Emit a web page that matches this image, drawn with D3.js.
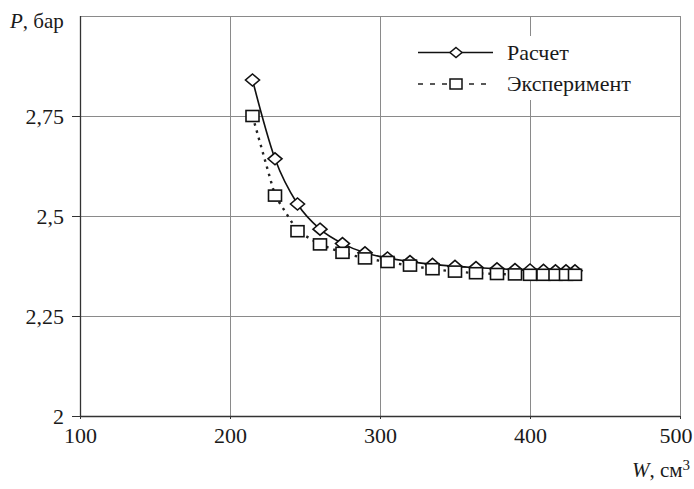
<!DOCTYPE html>
<html>
<head>
<meta charset="utf-8">
<script src="https://cdnjs.cloudflare.com/ajax/libs/d3/7.8.5/d3.min.js"></script>
<style>
  body { margin: 0; background: #fff; }
  svg text { font-family: 'Liberation Serif', 'DejaVu Serif', 'Times New Roman', Times, serif; fill: #1a1a1a; }
</style>
</head>
<body>
<script>
// data
var volume = [215, 230, 245, 260, 275, 290, 305, 320, 335, 350, 364, 378, 390, 400, 409, 417, 424, 430];
var calcP  = [2.84, 2.643, 2.53, 2.467, 2.431, 2.408, 2.395, 2.386, 2.379, 2.374, 2.371, 2.368, 2.366, 2.365, 2.364, 2.363, 2.363, 2.363];
var expP   = [2.75, 2.551, 2.462, 2.429, 2.408, 2.394, 2.385, 2.376, 2.367, 2.361, 2.357, 2.355, 2.354, 2.353, 2.353, 2.353, 2.353, 2.353];
var seriesNames = ['Расчет', 'Эксперимент'];
var xTicks = [100, 200, 300, 400, 500];
var yTicks = [2, 2.25, 2.5, 2.75];
var yTickLabels = ['2', '2,25', '2,5', '2,75'];

var width = 694, height = 489;
var mLeft = 80, mRight = 680, mTop = 16, mBottom = 416;
var serif = "'Liberation Serif', 'DejaVu Serif', serif";

var xscale = d3.scaleLinear().domain([100, 500]).range([mLeft, mRight]);
var yscale = d3.scaleLinear().domain([2, 3]).range([mBottom, mTop]);

var svg = d3.select('body').append('svg')
    .attr('width', width)
    .attr('height', height);

//grid lines
var grid = svg.append('g').attr('stroke', '#8a8a8a').attr('stroke-width', 1);
grid.selectAll('line.h')
    .data(yTicks.slice(1).concat([3]))
    .enter().append('line')
        .attr('x1', mLeft).attr('x2', mRight)
        .attr('y1', function (d) { return Math.round(yscale(d)) + 0.5; })
        .attr('y2', function (d) { return Math.round(yscale(d)) + 0.5; });
grid.selectAll('line.v')
    .data(xTicks.slice(1))
    .enter().append('line')
        .attr('y1', mTop).attr('y2', mBottom)
        .attr('x1', function (d) { return Math.round(xscale(d)) + 0.5; })
        .attr('x2', function (d) { return Math.round(xscale(d)) + 0.5; });

//axes
var yaxis = d3.axisLeft(yscale)
    .tickValues(yTicks)
    .tickSize(8)
    .tickPadding(8)
    .tickFormat(function (d, i) { return yTickLabels[i]; });
var xaxis = d3.axisBottom(xscale)
    .tickValues(xTicks)
    .tickSize(3)
    .tickPadding(7)
    .tickFormat(d3.format('d'));

var gy = svg.append('g')
    .attr('transform', 'translate(' + mLeft + ',0)')
    .call(yaxis);
var gx = svg.append('g')
    .attr('transform', 'translate(0,' + mBottom + ')')
    .call(xaxis);

[gx, gy].forEach(function (g) {
    g.attr('font-family', serif);
    g.select('.domain').remove();
    g.selectAll('line').attr('stroke', '#333');
    g.selectAll('text')
        .style('font-family', serif)
        .attr('font-size', 22)
        .attr('fill', '#1a1a1a');
});
gy.selectAll('text').attr('dy', '0.36em');
gx.selectAll('text').attr('dy', '0.75em');
// last label kept inside the picture
gx.selectAll('text').filter(function (d) { return d === 500; }).attr('text-anchor', 'end').attr('dx', 12);

svg.append('line')
    .attr('x1', mLeft + 0.5).attr('x2', mLeft + 0.5)
    .attr('y1', mTop).attr('y2', mBottom)
    .attr('stroke', '#333').attr('stroke-width', 1.3);
svg.append('line')
    .attr('x1', mLeft).attr('x2', mRight)
    .attr('y1', mBottom + 0.5).attr('y2', mBottom + 0.5)
    .attr('stroke', '#333').attr('stroke-width', 1.3);

//axis titles
var ylab = svg.append('text')
    .attr('x', 10).attr('y', 28)
    .style('font-family', serif)
    .attr('font-size', 21);
ylab.append('tspan').attr('font-style', 'italic').text('P');
ylab.append('tspan').text(', бар');

var xlab = svg.append('text')
    .attr('x', 690).attr('y', 477)
    .attr('text-anchor', 'end')
    .style('font-family', serif)
    .attr('font-size', 21);
xlab.append('tspan').attr('font-style', 'italic').text('W');
xlab.append('tspan').text(', см');
xlab.append('tspan').attr('font-size', 15).attr('dy', -7).text('3');

//series
var calcPts = volume.map(function (v, i) { return [v, calcP[i]]; });
var expPts = volume.map(function (v, i) { return [v, expP[i]]; });

var smooth = d3.line()
    .x(function (d) { return xscale(d[0]); })
    .y(function (d) { return yscale(d[1]); })
    .curve(d3.curveMonotoneX);
var straight = d3.line()
    .x(function (d) { return xscale(d[0]); })
    .y(function (d) { return yscale(d[1]); });

var diamond = 'M0,-6L7,0L0,6L-7,0Z';

svg.append('path')
    .attr('d', straight(expPts))
    .attr('fill', 'none')
    .attr('stroke', '#222')
    .attr('stroke-width', 2.4)
    .attr('stroke-dasharray', '2.5,5');

svg.append('path')
    .attr('d', smooth(calcPts))
    .attr('fill', 'none')
    .attr('stroke', '#111')
    .attr('stroke-width', 1.6);

svg.selectAll('path.dia')
    .data(calcPts)
    .enter().append('path')
        .attr('class', 'dia')
        .attr('d', diamond)
        .attr('transform', function (d) { return 'translate(' + xscale(d[0]) + ',' + yscale(d[1]) + ')'; })
        .attr('fill', '#fff')
        .attr('stroke', '#111')
        .attr('stroke-width', 1.6);

svg.selectAll('rect.sq')
    .data(expPts)
    .enter().append('rect')
        .attr('class', 'sq')
        .attr('x', function (d) { return xscale(d[0]) - 6.5; })
        .attr('y', function (d) { return yscale(d[1]) - 5.5; })
        .attr('width', 13)
        .attr('height', 11)
        .attr('fill', '#fff')
        .attr('stroke', '#111')
        .attr('stroke-width', 1.6);

//legend
var legend = svg.append('g');
legend.append('rect')
    .attr('x', 405).attr('y', 36)
    .attr('width', 260).attr('height', 64)
    .attr('fill', '#fff');

legend.append('line')
    .attr('x1', 418).attr('x2', 493)
    .attr('y1', 52.5).attr('y2', 52.5)
    .attr('stroke', '#111').attr('stroke-width', 1.6);
legend.append('path')
    .attr('d', 'M0,-5L6,0L0,5L-6,0Z')
    .attr('transform', 'translate(456,52.5)')
    .attr('fill', '#fff').attr('stroke', '#111').attr('stroke-width', 1.5);
legend.append('text')
    .attr('x', 507).attr('y', 60)
    .style('font-family', serif)
    .attr('font-size', 22)
    .text(seriesNames[0]);

legend.append('line')
    .attr('x1', 418).attr('x2', 449)
    .attr('y1', 84).attr('y2', 84)
    .attr('stroke', '#222').attr('stroke-width', 1.6)
    .attr('stroke-dasharray', '5,7');
legend.append('line')
    .attr('x1', 469).attr('x2', 493)
    .attr('y1', 84).attr('y2', 84)
    .attr('stroke', '#222').attr('stroke-width', 1.6)
    .attr('stroke-dasharray', '5,7');
legend.append('rect')
    .attr('x', 450).attr('y', 79)
    .attr('width', 12).attr('height', 10)
    .attr('fill', '#fff').attr('stroke', '#111').attr('stroke-width', 1.5);
legend.append('text')
    .attr('x', 507).attr('y', 91)
    .style('font-family', serif)
    .attr('font-size', 22)
    .text(seriesNames[1]);
</script>
</body>
</html>
